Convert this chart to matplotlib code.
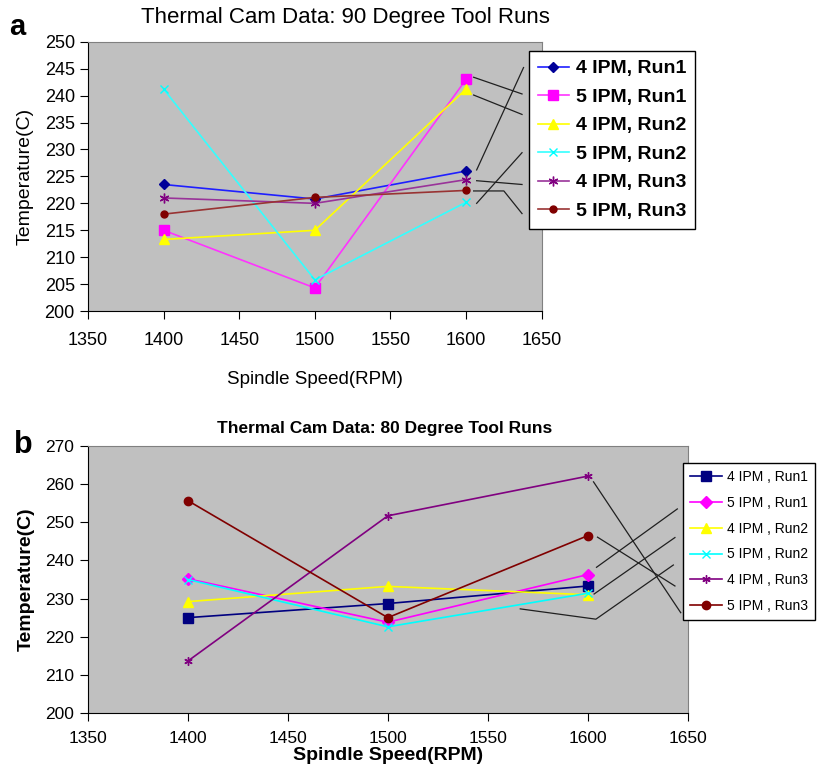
import matplotlib
matplotlib.use('Agg')
from matplotlib import pyplot as plt

plt.rcParams['font.family'] = ['Liberation Sans', 'DejaVu Sans']

rpm = [1400, 1500, 1600]
labels_a = ['4 IPM, Run1', '5 IPM, Run1', '4 IPM, Run2', '5 IPM, Run2', '4 IPM, Run3', '5 IPM, Run3']
labels_b = ['4 IPM , Run1', '5 IPM , Run1', '4 IPM , Run2', '5 IPM , Run2', '4 IPM , Run3', '5 IPM , Run3']

# panel a: 90 degree tool
temp_a = [
    [223.5, 220.8, 226.0],
    [215.0, 204.3, 243.0],
    [213.3, 215.0, 241.2],
    [241.2, 205.8, 220.2],
    [221.0, 220.0, 224.4],
    [218.0, 221.1, 222.4],
]
# panel b: 80 degree tool
temp_b = [
    [225.0, 228.7, 233.3],
    [235.2, 223.8, 236.3],
    [229.2, 233.2, 231.0],
    [235.0, 222.6, 231.4],
    [213.6, 251.7, 262.1],
    [255.7, 225.0, 246.5],
]

# leader lines (stray label connectors in the original chart)
leaders_a = [
    ([1605, 1637], [243.4, 240.3]),
    ([1605, 1637], [240.1, 236.5]),
    ([1607, 1638], [226.2, 245.2]),
    ([1607, 1637], [220.0, 229.4]),
    ([1607, 1637], [224.2, 223.5]),
    ([1605, 1625, 1637], [222.3, 222.3, 218.1]),
]
leaders_b = [
    ([1602.8, 1646.4], [260.6, 226.3]),
    ([1604.8, 1643.5], [246.1, 233.3]),
    ([1604.3, 1644.7], [238.2, 253.5]),
    ([1603.1, 1643.5], [231.2, 246.0]),
    ([1566.2, 1604.0, 1642.7], [227.3, 224.6, 238.8]),
]

colors_a = ['#1f1fff', '#ff33ff', '#ffff00', '#33ffff', '#993399', '#993333']
mfc_a = ['#000099', '#ff00ff', '#ffff00', '#00ffff', '#800080', '#800000']
markers_a = ['D', 's', '^', 'x', (6, 2, 0), 'o']
msize_a = [5, 7, 7, 6, 7, 5]

colors_b = ['#000080', '#ff00ff', '#ffff00', '#00ffff', '#800080', '#800000']
markers_b = ['s', 'D', '^', 'x', (6, 2, 0), 'o']
msize_b = [7, 6, 7, 6, 6, 6]

fig = plt.figure(figsize=(8.18, 7.72), dpi=100)
ax1 = fig.add_axes([0.1076, 0.597, 0.5546, 0.349])
ax2 = fig.add_axes([0.1072, 0.0764, 0.7338, 0.3459])

for ax in (ax1, ax2):
    ax.set_facecolor('#c0c0c0')
    ax.spines['top'].set_color('#808080')
    ax.spines['right'].set_color('#808080')
    ax.spines['left'].set_color('black')
    ax.spines['bottom'].set_color('black')
    ax.set_xlim(1350, 1650)
    ax.set_xticks(range(1350, 1651, 50))
    ax.tick_params(direction='out', length=6, color='black')

# panel a
handles = []
for i in range(6):
    h, = ax1.plot(rpm, temp_a[i], color=colors_a[i], lw=1.2, marker=markers_a[i],
                  ms=msize_a[i], mfc=mfc_a[i], mec=mfc_a[i], label=labels_a[i])
    handles.append(h)
for xs, ys in leaders_a:
    ax1.plot(xs, ys, color='#202020', lw=0.9, clip_on=False)
ax1.set_ylim(200, 250)
ax1.set_yticks(range(200, 251, 5))
ax1.tick_params(labelsize=13)
ax1.tick_params(axis='x', pad=9)
ax1.set_xlabel('Spindle Speed(RPM)', fontsize=13.5, labelpad=16)
ax1.set_ylabel('Temperature(C)', fontsize=14, labelpad=8)
fig.text(345 / 818, 1 - 17 / 772, 'Thermal Cam Data: 90 Degree Tool Runs', fontsize=16,
         ha='center', va='center')
fig.legend(handles=handles, loc='upper left', bbox_to_anchor=(529 / 818, 1 - 51 / 772),
           borderaxespad=0, frameon=True, fancybox=False, edgecolor='black', framealpha=1,
           prop={'weight': 'bold', 'size': 14}, handlelength=1.6,
           labelspacing=0.56, borderpad=0.45, handletextpad=0.35)
fig.text(0.021, 1 - 27 / 772, 'a', fontsize=21, fontweight='bold', ha='center', va='center')

# panel b
handles = []
for i in range(6):
    h, = ax2.plot(rpm, temp_b[i], color=colors_b[i], lw=1.2, marker=markers_b[i],
                  ms=msize_b[i], mfc=colors_b[i], mec=colors_b[i], label=labels_b[i])
    handles.append(h)
for xs, ys in leaders_b:
    ax2.plot(xs, ys, color='#202020', lw=0.9, clip_on=False)
ax2.set_ylim(200, 270)
ax2.set_yticks(range(200, 271, 10))
ax2.tick_params(labelsize=12.5)
ax2.tick_params(axis='x', pad=7)
ax2.set_xlabel('Spindle Speed(RPM)', fontsize=14, fontweight='bold', labelpad=1)
ax2.set_ylabel('Temperature(C)', fontsize=14, fontweight='bold', labelpad=8)
fig.text(385 / 818, 1 - 428 / 772, 'Thermal Cam Data: 80 Degree Tool Runs', fontsize=12.5,
         fontweight='bold', ha='center', va='center')
fig.legend(handles=handles, loc='upper left', bbox_to_anchor=(683 / 818, 1 - 463 / 772),
           borderaxespad=0, frameon=True, fancybox=False, edgecolor='black', framealpha=1,
           prop={'size': 10}, handlelength=2.3,
           labelspacing=0.85, borderpad=0.5, handletextpad=0.35)
fig.text(0.028, 1 - 445 / 772, 'b', fontsize=22, fontweight='bold', ha='center', va='center')

fig.savefig('out.png', dpi=100)
